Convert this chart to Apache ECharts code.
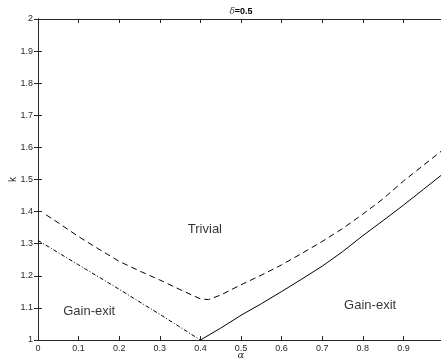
<!DOCTYPE html>
<html>
<head>
<meta charset="utf-8">
<script src="https://cdn.jsdelivr.net/npm/echarts@6/dist/echarts.min.js"></script>
<style>html,body{margin:0;padding:0;background:#fff}#c{width:441px;height:361px}</style>
</head>
<body>
<div id="c"></div>
<script>
// Dashed boundary
const alphaDash = [0.02, 0.05, 0.1, 0.15, 0.2, 0.25, 0.3, 0.35, 0.4, 0.42, 0.45, 0.5, 0.55, 0.6, 0.65, 0.7, 0.75, 0.8, 0.85, 0.9, 0.95, 1.0];
const kDash     = [1.39, 1.365, 1.322, 1.283, 1.245, 1.215, 1.187, 1.157, 1.128, 1.126, 1.14, 1.172, 1.202, 1.234, 1.27, 1.307, 1.347, 1.392, 1.44, 1.495, 1.545, 1.595];
// Solid boundary
const alphaSolid = [0.4, 0.45, 0.5, 0.55, 0.6, 0.65, 0.7, 0.75, 0.8, 0.85, 0.9, 0.95, 1.0];
const kSolid     = [1.0, 1.037, 1.077, 1.113, 1.151, 1.19, 1.23, 1.275, 1.325, 1.372, 1.42, 1.47, 1.52];
// Dash-dot boundary
const alphaDD = [0, 0.1, 0.2, 0.3, 0.4];
const kDD     = [1.31, 1.234, 1.158, 1.08, 1.0];
// Region labels
const regionNames = ['Trivial', 'Gain-exit', 'Gain-exit'];
const regionAlpha = [0.369, 0.062, 0.754];
const regionK     = [1.343, 1.088, 1.109];

const zip = (a, b) => a.map((v, i) => [v, b[i]]);
const axisCol = '#262626';
const font = 'Liberation Sans, Arial, Helvetica, sans-serif';

const chart = echarts.init(document.getElementById('c'), null, {renderer: 'canvas'});
const fmt = v => {
  const r = Math.round(v * 10) / 10;
  return String(r);
};
const axisCommon = {
  type: 'value',
  axisLine: {show: true, lineStyle: {color: axisCol, width: 1}},
  axisTick: {show: true, inside: true, length: 4, lineStyle: {color: axisCol}},
  splitLine: {show: false},
  interval: 0.1
};
chart.setOption({
  animation: false,
  backgroundColor: '#fff',
  grid: {left: 38, top: 19, width: 406, height: 321, containLabel: false, outerBoundsMode: 'none'},
  xAxis: [
    Object.assign({}, axisCommon, {
      min: 0, max: 1, position: 'bottom',
      name: 'α', nameLocation: 'middle', nameGap: 10, nameMoveOverlap: false,
      nameTextStyle: {fontFamily: 'DejaVu Serif, serif', fontStyle: 'italic', fontSize: 10, color: axisCol},
      axisLabel: {fontSize: 9, color: axisCol, fontFamily: font, margin: 4, formatter: fmt}
    }),
    Object.assign({}, axisCommon, {
      min: 0, max: 1, position: 'top', axisLabel: {show: false}
    })
  ],
  yAxis: [
    Object.assign({}, axisCommon, {
      min: 1, max: 2, position: 'left',
      name: 'k', nameLocation: 'middle', nameGap: 20, nameRotate: 90, nameMoveOverlap: false,
      nameTextStyle: {fontFamily: font, fontSize: 10, color: axisCol},
      axisLabel: {fontSize: 9, color: axisCol, fontFamily: font, margin: 5, formatter: fmt}
    }),
    Object.assign({}, axisCommon, {
      min: 1, max: 2, position: 'right', axisLabel: {show: false}
    })
  ],
  graphic: [{
    type: 'text', x: 241, y: 12,
    style: {
      text: '{d|δ}{b|=0.5}',
      align: 'center', verticalAlign: 'middle',
      rich: {
        d: {fontFamily: 'DejaVu Serif, serif', fontStyle: 'italic', fontSize: 9, fill: '#444'},
        b: {fontFamily: font, fontWeight: 'bold', fontSize: 9, fill: '#000'}
      }
    }
  }],
  series: [
    {type: 'line', data: zip(alphaDash, kDash), showSymbol: false, symbol: 'none',
     lineStyle: {color: '#000', width: 1, type: [6, 4]}},
    {type: 'line', data: zip(alphaSolid, kSolid), showSymbol: false, symbol: 'none',
     lineStyle: {color: '#000', width: 1, type: 'solid'}},
    {type: 'line', data: zip(alphaDD, kDD), showSymbol: false, symbol: 'none',
     lineStyle: {color: '#000', width: 1, type: [4, 2, 1, 2]}},
    {type: 'scatter', symbolSize: 0,
     data: regionNames.map((n, i) => ({value: [regionAlpha[i], regionK[i]], name: n})),
     label: {show: true, position: 'right', distance: 0, formatter: p => p.name,
             fontFamily: font, fontSize: 13, color: '#000'}}
  ]
});
</script>
</body>
</html>
